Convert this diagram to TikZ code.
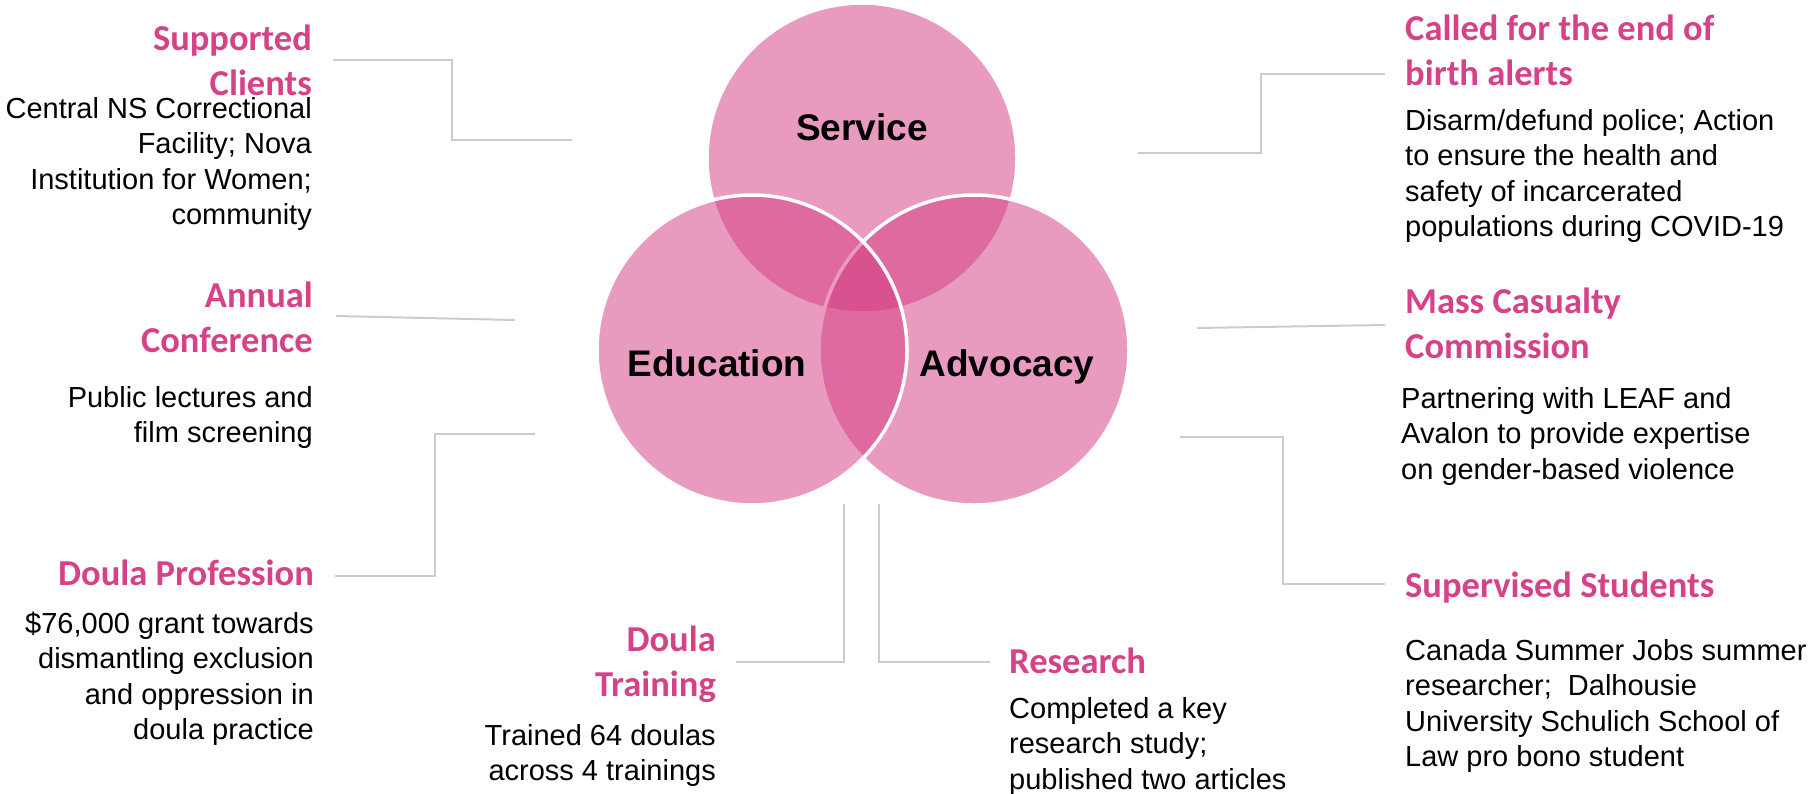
\documentclass[tikz,border=0pt]{standalone}
\usepackage{fontspec}
\setmainfont{Liberation Sans}
\newfontfamily\headfont{Carlito}
\definecolor{headpink}{RGB}{214,66,136}
\definecolor{vennpink}{RGB}{212,59,129}
\definecolor{linegrey}{RGB}{204,204,204}
\tikzset{
  head/.style={font=\headfont\bfseries\fontsize{36.5}{45}\selectfont, text=headpink, inner sep=0pt},
  bodytext/.style={font=\fontsize{29}{35.5}\selectfont, text=black, inner sep=0pt},
  conn/.style={draw=linegrey, line width=2pt},
  venn/.style={circle, minimum size=310pt, inner sep=0pt, fill=vennpink, fill opacity=0.51, draw=white, line width=3.5pt},
  venlabel/.style={font=\bfseries\fontsize{37}{40}\selectfont, text=black, inner sep=0pt, anchor=base}
}
\begin{document}
\begin{tikzpicture}[x=1pt,y=-1pt]
\useasboundingbox (0,0) rectangle (1817,793);
% Venn circles (order: service, advocacy, education)
\node[venn] (service) at (862,158) {};
\node[venn] (advocacy) at (974,350) {};
\node[venn] (education) at (752,350) {};
\node[venlabel] (servicelbl) at (862,140) {Service};
\node[venlabel] (educationlbl) at (717,376) {Education};
\node[venlabel] (advocacylbl) at (1007,376) {Advocacy};

% text blocks, left column (anchored at the baseline of the last line)
\node[head, anchor=base east, align=right] (h1) at (312,95) {Supported\\Clients};
\node[bodytext, anchor=base east, align=right] (b1) at (312,224.5) {Central NS Correctional\\Facility; Nova\\Institution for Women;\\community};
\node[head, anchor=base east, align=right] (h3) at (313,352) {Annual\\Conference};
\node[bodytext, anchor=base east, align=right] (b3) at (313,442.5) {Public lectures and\\film screening};
\node[head, anchor=base east, align=right] (h5) at (314,585) {Doula Profession};
\node[bodytext, anchor=base east, align=right] (b5) at (314,739.5) {\$76,000 grant towards\\dismantling exclusion\\and oppression in\\doula practice};
\node[head, anchor=base east, align=right] (h7) at (716,696) {Doula\\Training};
\node[bodytext, anchor=base east, align=right] (b7) at (716,780.5) {Trained 64 doulas\\across 4 trainings};

% text blocks, right column
\node[head, anchor=base west, align=left] (h2) at (1405,85) {Called for the end of\\birth alerts};
\node[bodytext, anchor=base west, align=left] (b2) at (1405,236.5) {Disarm/defund police; Action\\to ensure the health and\\safety of incarcerated\\populations during COVID-19};
\node[head, anchor=base west, align=left] (h4) at (1405,358) {Mass Casualty\\Commission};
\node[bodytext, anchor=base west, align=left] (b4) at (1401,479) {Partnering with LEAF and\\Avalon to provide expertise\\on gender-based violence};
\node[head, anchor=base west, align=left] (h6) at (1405,597) {Supervised Students};
\node[bodytext, anchor=base west, align=left] (b6) at (1405,766.5) {Canada Summer Jobs summer\\researcher;\ \ Dalhousie\\University Schulich School of\\Law pro bono student};
\node[head, anchor=base west, align=left] (h8) at (1009,673) {Research};
\node[bodytext, anchor=base west, align=left] (b8) at (1009,789) {Completed a key\\research study;\\published two articles};

% connector points
\coordinate (c1a) at (333,60);  \coordinate (c1b) at (452,60);  \coordinate (c1c) at (452,140); \coordinate (c1d) at (572,140);
\coordinate (c2a) at (1138,153); \coordinate (c2b) at (1261,153); \coordinate (c2c) at (1261,74); \coordinate (c2d) at (1385,74);
\coordinate (c3a) at (336,316); \coordinate (c3b) at (515,320);
\coordinate (c4a) at (1197,328); \coordinate (c4b) at (1385,325);
\coordinate (c5a) at (335,576); \coordinate (c5b) at (435,576); \coordinate (c5c) at (435,434); \coordinate (c5d) at (535,434);
\coordinate (c6a) at (1180,437); \coordinate (c6b) at (1283,437); \coordinate (c6c) at (1283,584); \coordinate (c6d) at (1385,584);
\coordinate (c7a) at (736,662); \coordinate (c7b) at (844,662); \coordinate (c7c) at (844,504);
\coordinate (c8a) at (879,504); \coordinate (c8b) at (879,662); \coordinate (c8c) at (990,662);

\draw[conn] (c1a) -- (c1b) -- (c1c) -- (c1d);
\draw[conn] (c2a) -- (c2b) -- (c2c) -- (c2d);
\draw[conn] (c3a) -- (c3b);
\draw[conn] (c4a) -- (c4b);
\draw[conn] (c5a) -- (c5b) -- (c5c) -- (c5d);
\draw[conn] (c6a) -- (c6b) -- (c6c) -- (c6d);
\draw[conn] (c7a) -- (c7b) -- (c7c);
\draw[conn] (c8a) -- (c8b) -- (c8c);
\end{tikzpicture}
\end{document}
